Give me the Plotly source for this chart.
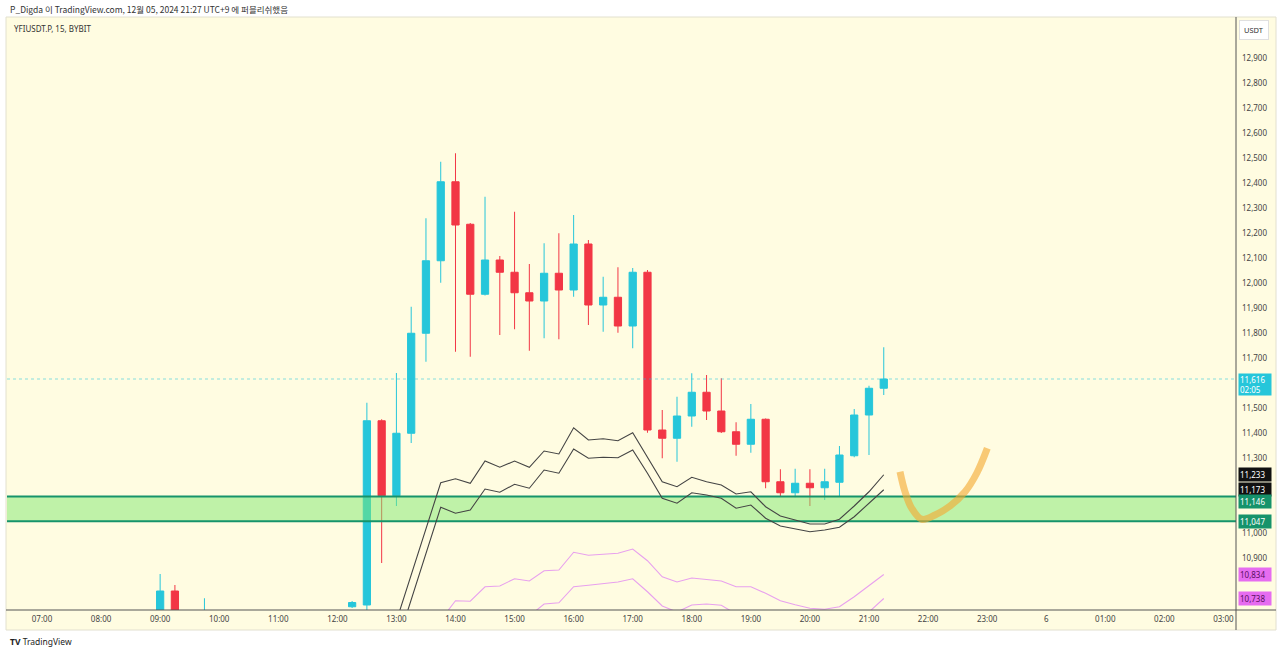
import plotly.graph_objects as go

D = "2024-12-05 "
candle_times = [D + t for t in [
    "09:00", "09:15", "09:45", "12:15", "12:30", "12:45", "13:00", "13:15", "13:30", "13:45",
    "14:00", "14:15", "14:30", "14:45", "15:00", "15:15", "15:30", "15:45", "16:00", "16:15",
    "16:30", "16:45", "17:00", "17:15", "17:30", "17:45", "18:00", "18:15", "18:30", "18:45",
    "19:00", "19:15", "19:30", "19:45", "20:00", "20:15", "20:30", "20:45", "21:00", "21:15"]]
opens = [10660, 10768, 10640, 10705, 10712, 11449, 11149, 11399, 11799, 12089,
         12405, 12235, 11955, 12092, 12043, 11961, 11928, 12039, 11972, 12156,
         11912, 11943, 11828, 12043, 11412, 11379, 11468, 11563, 11488, 11405,
         11355, 11455, 11205, 11161, 11199, 11181, 11203, 11309, 11472, 11579]
highs = [10836, 10792, 10739, 10728, 11521, 11455, 11640, 11905, 12259, 12485,
         12519, 12240, 12345, 12108, 12285, 12076, 12159, 12199, 12272, 12172,
         12025, 12063, 12060, 12052, 11492, 11545, 11639, 11632, 11619, 11443,
         11516, 11458, 11255, 11257, 11255, 11257, 11348, 11496, 11589, 11743]
lows = [10640, 10600, 10600, 10700, 10690, 10880, 11108, 11360, 11685, 12001,
        11725, 11705, 11950, 11792, 11815, 11729, 11779, 11775, 11945, 11832,
        11805, 11801, 11739, 11401, 11299, 11285, 11425, 11452, 11400, 11309,
        11321, 11179, 11145, 11143, 11108, 11132, 11148, 11303, 11312, 11552]
closes = [10768, 10650, 10660, 10722, 11449, 11149, 11399, 11799, 12089, 12405,
          12232, 11955, 12092, 12043, 11961, 11928, 12039, 11972, 12156, 11912,
          11943, 11828, 12043, 11412, 11379, 11468, 11563, 11488, 11405, 11355,
          11455, 11205, 11161, 11199, 11181, 11205, 11312, 11472, 11579, 11616]

line_times = [D + t for t in [
    "13:00", "13:15", "13:30", "13:45", "14:00", "14:15", "14:30", "14:45",
    "15:00", "15:15", "15:30", "15:45", "16:00", "16:15", "16:30", "16:45",
    "17:00", "17:15", "17:30", "17:45", "18:00", "18:15", "18:30", "18:45",
    "19:00", "19:15", "19:30", "19:45", "20:00", "20:15", "20:30", "20:45",
    "21:00", "21:15"]]
upper_black = [10648, 10834, 11022, 11201, 11217, 11199, 11288, 11263,
               11288, 11263, 11328, 11316, 11421, 11372, 11377, 11369,
               11401, 11305, 11205, 11185, 11223, 11205, 11192, 11156,
               11165, 11105, 11068, 11052, 11036, 11036, 11055, 11108,
               11165, 11233]
lower_black = [10548, 10732, 10918, 11103, 11079, 11092, 11176, 11163,
               11195, 11179, 11252, 11239, 11336, 11299, 11303, 11301,
               11332, 11239, 11139, 11119, 11161, 11152, 11139, 11099,
               11112, 11059, 11028, 11015, 11005, 11012, 11023, 11065,
               11119, 11173]
upper_pink = [None, None, None, 10652, 10729, 10727, 10785, 10788,
              10817, 10808, 10849, 10852, 10923, 10911, 10915, 10919,
              10936, 10889, 10825, 10804, 10820, 10815, 10808, 10785,
              10785, 10759, 10729, 10713, 10699, 10695, 10705, 10745,
              10788, 10834]
lower_pink = [None, None, None, None, None, None, None, None,
              None, 10668, 10716, 10721, 10785, 10791, 10796, 10804,
              10817, 10765, 10708, 10684, 10712, 10716, 10711, 10676,
              10676, 10650, 10620, 10605, 10590, 10585, 10595, 10640,
              10684, 10738]

zone_top = 11146
zone_bottom = 11047
last_price = 11616
countdown = "02:05"

stroke_times = [D + t for t in ["21:31:30", "21:36:36", "21:43:23", "21:53:34", "22:07:05",
                                "22:22:19", "22:37:34", "22:49:26", "23:00:11"]]
stroke_prices = [11245, 11165, 11099, 11055, 11072, 11108, 11165, 11239, 11339]

tick_vals = ["2024-12-05 %02d:00" % h for h in range(7, 24)] + ["2024-12-06 %02d:00" % h for h in range(0, 4)]
tick_text = ["%02d:00" % h for h in range(7, 24)] + ["6", "01:00", "02:00", "03:00"]
# price scale ticks (those hidden behind the value tags are left out)
price_ticks = [10900, 11000, 11300, 11400, 11500, 11700, 11800, 11900,
               12000, 12100, 12200, 12300, 12400, 12500, 12600, 12700, 12800, 12900]

x_range = ["2024-12-05 06:24:27", "2024-12-06 03:12:47"]
y_range = [10692, 13060]

BG = "#FFFCE1"
UP = "#26C6DA"
DOWN = "#F23645"
FONT = "Noto Sans, Noto Sans CJK KR, sans-serif"

fig = go.Figure()

fig.add_trace(go.Candlestick(
    x=candle_times, open=opens, high=highs, low=lows, close=closes,
    increasing=dict(line=dict(color=UP, width=1), fillcolor=UP),
    decreasing=dict(line=dict(color=DOWN, width=1), fillcolor=DOWN),
    whiskerwidth=0, showlegend=False, hoverinfo="skip"))

# support zone (semi-transparent over candles)
zx = [x_range[0], x_range[1], x_range[1], x_range[0], x_range[0]]
fig.add_trace(go.Scatter(x=zx, y=[zone_top, zone_top, zone_bottom, zone_bottom, zone_top],
                         fill="toself", fillcolor="rgba(128,232,112,0.5)",
                         line=dict(width=0), mode="lines", showlegend=False, hoverinfo="skip"))
for v in (zone_top, zone_bottom):
    fig.add_trace(go.Scatter(x=x_range, y=[v, v], mode="lines",
                             line=dict(color="#16936B", width=2.2),
                             showlegend=False, hoverinfo="skip"))

for ys, col in ((upper_black, "#444444"), (lower_black, "#444444"),
                (upper_pink, "#E8A0EE"), (lower_pink, "#E8A0EE")):
    fig.add_trace(go.Scatter(x=line_times, y=ys, mode="lines",
                             line=dict(color=col, width=1.1), connectgaps=False,
                             showlegend=False, hoverinfo="skip"))

# last price dotted line
fig.add_trace(go.Scatter(x=x_range, y=[last_price, last_price], mode="lines",
                         line=dict(color="rgba(38,198,218,0.55)", width=1, dash="dot"),
                         showlegend=False, hoverinfo="skip"))

# hand-drawn stroke
fig.add_trace(go.Scatter(x=stroke_times, y=stroke_prices, mode="lines",
                         line=dict(color="rgba(243,170,50,0.62)", width=7, shape="spline"),
                         showlegend=False, hoverinfo="skip"))

L, R, T, B = 7, 44, 18, 44
W, H = 1280, 654
pw, ph = W - L - R, H - T - B


def px(x):
    return (x - L) / pw


def py(y):
    return (H - B - y) / ph


shapes = [
    dict(type="rect", xref="paper", yref="paper", x0=px(6), x1=px(1276), y0=py(630), y1=py(17),
         fillcolor=BG, line=dict(color="#E2E0CF", width=1), layer="below"),
    dict(type="line", xref="paper", yref="paper", x0=px(6), x1=px(1276), y0=0, y1=0,
         line=dict(color="#555555", width=1)),
    dict(type="line", xref="paper", yref="paper", x0=1, x1=1, y0=py(630), y1=py(17),
         line=dict(color="#555555", width=1)),
]

annotations = [
    dict(xref="paper", yref="paper", x=px(8), y=py(9), xanchor="left", yanchor="middle",
         text="P_Digda 이 TradingView.com, 12월 05, 2024 21:27 UTC+9 에 퍼블리쉬했음",
         showarrow=False, font=dict(family="Noto Sans CJK KR", size=8.5, color="#333333")),
    dict(xref="paper", yref="paper", x=px(12), y=py(29), xanchor="left", yanchor="middle",
         text="YFIUSDT.P, 15, BYBIT", showarrow=False,
         font=dict(family=FONT, size=8, color="#333333")),
    dict(xref="paper", yref="paper", x=px(1254), y=py(30), xanchor="center", yanchor="middle",
         text="USDT", showarrow=False, bgcolor="#FFFFFF", bordercolor="#E0E0E0", borderwidth=1,
         borderpad=4, font=dict(family=FONT, size=7.5, color="#333333")),
    dict(xref="paper", yref="paper", x=px(8), y=py(641), xanchor="left", yanchor="middle",
         text="<b>TV</b> TradingView", showarrow=False,
         font=dict(family=FONT, size=8.5, color="#222222")),
]

label_x = px(1238)


def price_label(v, bg, fg, text=None, yanchor="middle", yv=None, h=11):
    return dict(xref="paper", yref="y", x=label_x, y=v if yv is None else yv,
                xanchor="left", yanchor=yanchor,
                text=text if text else "{:,}".format(v), showarrow=False,
                bgcolor=bg, borderpad=1, align="left", width=30, height=h,
                font=dict(family=FONT, size=8, color=fg))


annotations += [
    price_label(last_price, UP, "#FFFFFF",
                text="{:,}<br>{}".format(last_price, countdown), yanchor="top",
                yv=last_price + 24, h=19),
    price_label(upper_black[-1], "#111111", "#FFFFFF"),
    price_label(lower_black[-1], "#111111", "#FFFFFF"),
    price_label(zone_top, "#16936B", "#FFFFFF", yv=zone_top - 18),
    price_label(zone_bottom, "#16936B", "#FFFFFF"),
    price_label(upper_pink[-1], "#E66CF0", "#5A1060"),
    price_label(lower_pink[-1], "#E66CF0", "#5A1060"),
]

fig.update_layout(
    width=W, height=H,
    margin=dict(l=L, r=R, t=T, b=B, autoexpand=False),
    paper_bgcolor="#FFFFFF", plot_bgcolor=BG,
    shapes=shapes, annotations=annotations,
    showlegend=False,
    xaxis=dict(type="date", range=x_range, rangeslider=dict(visible=False),
               tickvals=tick_vals, ticktext=tick_text, showgrid=False, zeroline=False,
               ticks="", ticklabelstandoff=3, automargin=False,
               tickfont=dict(family=FONT, size=8, color="#444444"), showline=False),
    yaxis=dict(range=y_range, side="right", tickvals=price_ticks, tickformat=",d",
               showgrid=False, zeroline=False, ticks="", ticklabelstandoff=5, automargin=False,
               tickfont=dict(family=FONT, size=8, color="#444444"), showline=False),
)

fig.write_html("out.html", config={"displayModeBar": False},
               post_script="document.body.style.margin='0';")
